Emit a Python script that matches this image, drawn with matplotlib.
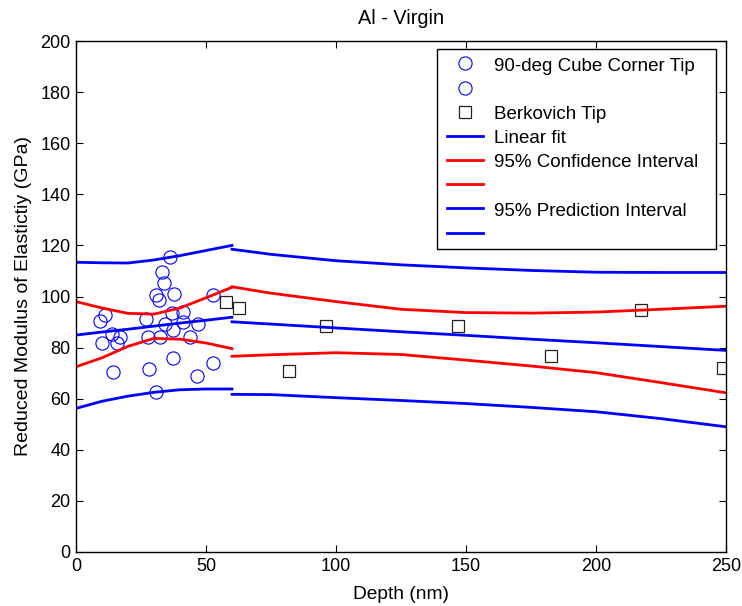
import matplotlib
matplotlib.use("Agg")
import matplotlib.pyplot as plt
from matplotlib.patches import Rectangle

plt.rcParams['font.family'] = ['Liberation Sans', 'DejaVu Sans']

# 90-deg cube corner tip measurements (depth nm, modulus GPa)
cube_depth = [36.0, 33.1, 33.7, 30.9, 31.9, 37.7, 52.7, 11.3, 9.1, 26.8,
              37.0, 41.2, 34.3, 41.2, 46.9, 37.3, 14.0, 17.0, 27.7, 32.2,
              44.0, 10.0, 15.9, 37.2, 52.7, 14.1, 28.0, 46.4, 30.8]
cube_modulus = [115.6, 109.7, 105.2, 100.6, 98.6, 101.0, 100.6, 92.6, 90.5, 91.1,
                93.4, 94.1, 89.2, 89.9, 89.2, 86.9, 85.3, 84.3, 84.0, 84.3,
                84.0, 81.7, 81.7, 75.8, 74.1, 70.6, 71.7, 68.9, 62.5]

# Berkovich tip measurements
berk_depth = [57.7, 62.8, 96.3, 81.9, 146.9, 182.7, 217.2, 249.0]
berk_modulus = [97.7, 95.4, 88.3, 70.7, 88.3, 76.6, 94.7, 72.0]

# Fit and interval curves for the cube corner range
cc_x = [0, 10, 20, 30, 40, 50, 60]
cc_fit = [84.9, 86.1, 87.2, 88.4, 89.6, 90.7, 91.9]
cc_ci_hi = [98.0, 95.5, 93.4, 93.1, 95.5, 99.5, 103.6]
cc_ci_lo = [72.5, 76.0, 80.5, 83.6, 83.3, 81.8, 79.6]
cc_pi_hi = [113.4, 113.2, 113.1, 114.3, 116.0, 118.0, 120.0]
cc_pi_lo = [56.2, 59.0, 61.0, 62.5, 63.5, 63.8, 63.8]

# Fit and interval curves for the Berkovich range
bk_x = [60, 75, 100, 125, 150, 175, 200, 225, 250]
bk_fit = [90.1, 89.2, 87.7, 86.2, 84.8, 83.3, 81.9, 80.4, 78.9]
bk_ci_hi = [103.8, 101.3, 98.0, 95.0, 93.7, 93.5, 93.9, 95.0, 96.2]
bk_ci_lo = [76.6, 77.2, 78.0, 77.3, 75.1, 72.8, 70.2, 66.3, 62.3]
bk_pi_hi = [118.5, 116.5, 114.0, 112.4, 111.2, 110.2, 109.5, 109.4, 109.4]
bk_pi_lo = [61.7, 61.6, 60.4, 59.3, 58.1, 56.6, 54.9, 52.2, 49.0]

# blank entries use a space so every legend row keeps the same height
legend_labels = ["90-deg Cube Corner Tip", " ", "Berkovich Tip", "Linear fit",
                 "95% Confidence Interval", " ", "95% Prediction Interval", " "]

FS = 13
fig = plt.figure(figsize=(7.42, 6.06), dpi=100)
ax = fig.add_axes([76 / 742, 1 - 552 / 606, 650 / 742, 511 / 606])

lw = 2.0
blue = '#0000ff'
red = '#ff0000'

h_c, = ax.plot(cube_depth, cube_modulus, linestyle='none', marker='o',
               markersize=9.5, markerfacecolor='none', markeredgecolor=blue,
               markeredgewidth=0.8)
h_b, = ax.plot(berk_depth, berk_modulus, linestyle='none', marker='s',
               markersize=9, markerfacecolor='none', markeredgecolor='#222222',
               markeredgewidth=0.9)

for xs, fit, chi, clo, phi, plo in [(cc_x, cc_fit, cc_ci_hi, cc_ci_lo, cc_pi_hi, cc_pi_lo),
                                    (bk_x, bk_fit, bk_ci_hi, bk_ci_lo, bk_pi_hi, bk_pi_lo)]:
    h_fit, = ax.plot(xs, fit, color=blue, lw=lw)
    h_chi, = ax.plot(xs, chi, color=red, lw=lw)
    h_clo, = ax.plot(xs, clo, color=red, lw=lw)
    h_phi, = ax.plot(xs, phi, color=blue, lw=lw)
    h_plo, = ax.plot(xs, plo, color=blue, lw=lw)

ax.set_xlim(0, 250)
ax.set_ylim(0, 200)
ax.set_xticks(range(0, 251, 50))
ax.set_yticks(range(0, 201, 20))
ax.tick_params(direction='in', length=5, width=0.8, top=True, right=True,
               labelsize=FS, pad=4)
for s in ax.spines.values():
    s.set_linewidth(1.0)

ax.set_title("Al - Virgin", fontsize=14.3, pad=12)
ax.set_xlabel("Depth (nm)", fontsize=13.8, labelpad=8)
ax.set_ylabel("Reduced Modulus of Elastictiy (GPa)", fontsize=14.0, labelpad=6)

# legend box drawn as its own frame so its size can be set independently
box_left, box_right = 0.5554, 0.9846
box_bottom, box_top = 0.593, 0.9838
ax.add_patch(Rectangle((box_left, box_bottom), box_right - box_left,
                       box_top - box_bottom, transform=ax.transAxes,
                       facecolor='white', edgecolor='black', lw=1.0,
                       zorder=4.9, clip_on=False))

handles = [h_c, h_c, h_b, h_fit, h_chi, h_clo, h_phi, h_plo]
leg = ax.legend(handles, legend_labels, loc='upper left',
                bbox_to_anchor=(0.5604, box_top), fontsize=13.5, frameon=False,
                handlelength=1.92, handleheight=1.0, handletextpad=0.59,
                labelspacing=0.285, borderpad=0.36, borderaxespad=0)
leg.set_zorder(5)

fig.savefig("out.png", dpi=100)
